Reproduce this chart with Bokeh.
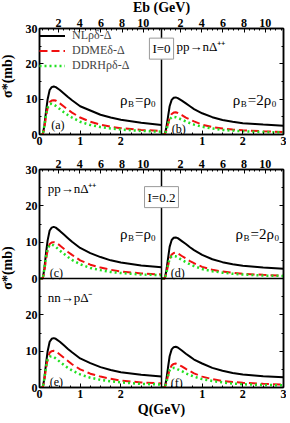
from bokeh.plotting import figure
from bokeh.models import Range1d, LinearAxis, FixedTicker, Span, Label, Legend, LegendItem
from bokeh.layouts import column
from bokeh.embed import file_html
from bokeh.resources import INLINE

# ---------------- data ----------------
Q = [0.0, 0.08, 0.12, 0.16, 0.2, 0.25, 0.3, 0.35, 0.4, 0.5, 0.6, 0.7, 0.8, 1.0, 1.25, 1.5, 1.75, 2.0, 2.5, 3.0]

a_nl = [0, 0, 2.5, 6.5, 10.0, 12.6, 13.4, 13.6, 13.4, 12.6, 11.6, 10.6, 9.7, 8.0, 6.8, 5.6, 4.8, 4.2, 3.3, 2.7]
a_me = [0, 0, 2.0, 5.0, 7.5, 9.2, 9.6, 9.7, 9.6, 8.8, 7.9, 7.0, 6.2, 4.8, 3.6, 2.8, 2.2, 1.8, 1.3, 1.0]
a_rh = [0, 0, 2.5, 5.5, 7.6, 8.6, 8.7, 8.5, 8.1, 7.2, 6.3, 5.5, 4.8, 3.6, 2.7, 2.1, 1.7, 1.4, 1.0, 0.8]

b_nl = [0, 0, 2.0, 5.0, 8.0, 9.8, 10.4, 10.5, 10.3, 9.6, 8.8, 8.0, 7.2, 6.0, 4.9, 4.1, 3.6, 3.2, 2.8, 2.5]
b_me = [0, 0, 1.2, 3.0, 4.6, 5.8, 6.2, 6.3, 6.1, 5.5, 4.8, 4.2, 3.7, 2.8, 2.1, 1.7, 1.4, 1.2, 0.9, 0.7]
b_rh = [0, 0, 1.2, 3.0, 4.3, 4.9, 5.0, 4.9, 4.7, 4.2, 3.7, 3.2, 2.8, 2.2, 1.7, 1.3, 1.1, 0.9, 0.7, 0.6]

c_nl = [0, 0, 2.7, 7.0, 10.5, 13.2, 14.0, 14.2, 14.0, 13.1, 12.1, 11.1, 10.1, 8.4, 7.0, 5.9, 5.0, 4.4, 3.6, 3.1]
c_me = [0, 0, 2.1, 5.2, 7.8, 9.5, 9.9, 10.0, 9.9, 9.1, 8.2, 7.3, 6.5, 5.0, 3.8, 3.0, 2.4, 1.9, 1.4, 1.1]
c_rh = [0, 0, 2.7, 6.0, 8.2, 9.2, 9.3, 9.1, 8.7, 7.7, 6.8, 5.9, 5.1, 3.9, 2.9, 2.3, 1.8, 1.5, 1.1, 0.9]

d_nl = [0, 0, 2.2, 5.5, 8.7, 10.6, 11.2, 11.3, 11.1, 10.3, 9.5, 8.6, 7.8, 6.5, 5.3, 4.5, 3.9, 3.5, 3.0, 2.7]
d_me = [0, 0, 1.4, 3.5, 5.3, 6.6, 7.0, 7.1, 6.9, 6.2, 5.5, 4.8, 4.2, 3.2, 2.4, 1.9, 1.6, 1.3, 1.0, 0.8]
d_rh = [0, 0, 1.5, 3.7, 5.4, 6.1, 6.2, 6.1, 5.8, 5.1, 4.5, 3.9, 3.4, 2.6, 2.0, 1.6, 1.3, 1.1, 0.8, 0.7]

e_nl = [0, 0, 2.5, 6.5, 10.0, 12.6, 13.4, 13.6, 13.4, 12.6, 11.6, 10.6, 9.7, 8.0, 6.7, 5.6, 4.8, 4.2, 3.5, 3.0]
e_me = [0, 0, 2.1, 5.2, 7.8, 9.6, 10.0, 10.1, 10.0, 9.1, 8.2, 7.3, 6.4, 5.0, 3.8, 3.0, 2.4, 1.9, 1.4, 1.1]
e_rh = [0, 0, 2.5, 5.6, 7.7, 8.5, 8.6, 8.4, 8.0, 7.1, 6.2, 5.4, 4.7, 3.6, 2.7, 2.1, 1.7, 1.4, 1.0, 0.8]

f_nl = [0, 0, 2.2, 5.5, 8.6, 10.5, 11.1, 11.2, 11.0, 10.2, 9.3, 8.5, 7.7, 6.6, 5.4, 4.6, 4.0, 3.6, 3.1, 2.8]
f_me = [0, 0, 1.3, 3.2, 4.9, 6.1, 6.5, 6.6, 6.4, 5.8, 5.1, 4.5, 3.9, 3.0, 2.3, 1.8, 1.5, 1.3, 1.0, 0.8]
f_rh = [0, 0, 1.3, 3.2, 4.7, 5.3, 5.4, 5.3, 5.0, 4.5, 3.9, 3.4, 3.0, 2.3, 1.8, 1.4, 1.1, 0.9, 0.7, 0.6]

series_names = ["NLρδ-Δ", "DDMEδ-Δ", "DDRHρδ-Δ"]
q_ticks = [0, 1, 2, 3]
sigma_ticks = [0, 10, 20, 30]
eb_ticks = [2, 4, 6, 8, 10]

# ---------------- styles ----------------
FONT = "Liberation Serif"
COLORS = ["black", "#f01010", "#22e022"]
DASHES = ["solid", "8 4", "2 3"]
WIDTHS = [2, 2, 2.5]

# Eb -> Q mapping used for the upper tick axis
def eb_to_q(eb):
    return round(0.26 * eb - 0.05, 4)


def style_axis(ax, labels=True):
    ax.axis_line_color = "black"
    ax.axis_line_width = 1.5
    ax.major_tick_in = 4
    ax.major_tick_out = 0
    ax.minor_tick_in = 2
    ax.minor_tick_out = 0
    ax.major_tick_line_color = "black"
    ax.minor_tick_line_color = "black"
    ax.major_label_text_font = FONT
    ax.major_label_text_font_style = "bold"
    if labels:
        ax.major_label_text_font_size = "12px"
        ax.major_label_text_color = "black"
        ax.major_label_standoff = 2
    else:
        ax.major_label_text_font_size = "1px"
        ax.major_label_text_color = None
        ax.major_label_standoff = 0
    ax.axis_label_text_font = FONT
    ax.axis_label_text_font_style = "bold"
    ax.axis_label_text_font_size = "14px"
    ax.axis_label_text_color = "black"


def q_axis(labels=True):
    ticks = [t for t in q_ticks] + [t + 3 for t in q_ticks[1:]]
    minor = [i * 0.25 for i in range(25)]
    ax = LinearAxis(ticker=FixedTicker(ticks=ticks, minor_ticks=minor))
    ov = {}
    for t in q_ticks:
        ov[t] = str(t) if t < 3 else ""
        ov[t + 3] = str(t)
    ax.major_label_overrides = ov
    style_axis(ax, labels)
    return ax


def eb_axis(label=None):
    ticks, minor, ov = [], [], {}
    for off in (0, 3):
        for eb in eb_ticks:
            t = round(eb_to_q(eb) + off, 4)
            ticks.append(t)
            ov[t] = str(eb)
        for k in range(1, 24):
            m = round(eb_to_q(k * 0.5) + off, 4)
            if off <= m <= off + 3:
                minor.append(m)
    ax = LinearAxis(ticker=FixedTicker(ticks=ticks, minor_ticks=minor))
    ax.major_label_overrides = ov
    style_axis(ax, True)
    if label:
        ax.axis_label = label
        ax.axis_label_standoff = 1
    return ax


def make_fig(height, ymax, top, bottom):
    p = figure(width=290, height=height, x_range=Range1d(0, 6), y_range=Range1d(0, ymax),
               x_axis_type=None, y_axis_type=None, output_backend="svg", toolbar_location=None,
               min_border_left=38, min_border_right=3, min_border_top=top, min_border_bottom=bottom)
    p.extra_x_ranges = {"r": Range1d(-3, 3)}
    p.outline_line_color = "black"
    p.outline_line_width = 1.5
    p.background_fill_color = "white"
    p.border_fill_color = "white"
    p.add_layout(Span(location=3, dimension="height", line_color="black", line_width=1.5))
    return p


def text(p, x, y, s, size="13px", align="left", xr="default", yr="default", dy=0, **kw):
    lab = Label(x=x, y=y, text=s, x_range_name=xr, y_range_name=yr, y_offset=dy,
                text_font=FONT, text_font_size=size, text_align=align, text_baseline="middle",
                text_color="black", **kw)
    p.add_layout(lab)
    return lab


def rho_label(p, x, y, mid, xr="default", yr="default"):
    text(p, x, y, "ρ", "15px", xr=xr, yr=yr)
    lab = text(p, x, y, "B", "9px", xr=xr, yr=yr, dy=-4)
    lab.x_offset = 8
    lab = text(p, x, y, "=" + mid, "15px", xr=xr, yr=yr)
    lab.x_offset = 15
    w = 16 if mid == "ρ" else 24
    lab = text(p, x, y, "0", "9px", xr=xr, yr=yr, dy=-4)
    lab.x_offset = 15 + w


def draw(p, data, xr="default", yr="default"):
    rs = []
    for vals, c, d, w in zip(data, COLORS, DASHES, WIDTHS):
        rs.append(p.line(Q, vals, line_color=c, line_dash=d, line_width=w,
                         x_range_name=xr, y_range_name=yr))
    return rs

# ---------------- top row: (a) (b) ----------------
p1 = make_fig(155, 30, 30, 17)
yax = LinearAxis(ticker=FixedTicker(ticks=sigma_ticks, minor_ticks=[5, 15, 25]))
style_axis(yax)
yax.axis_label = "\u00a0\u00a0\u00a0σ*(mb)"
yax.axis_label_standoff = 8
p1.add_layout(yax, "left")
yr_ax = LinearAxis(ticker=FixedTicker(ticks=sigma_ticks, minor_ticks=[5, 15, 25]))
style_axis(yr_ax, False)
p1.add_layout(yr_ax, "right")
p1.add_layout(q_axis(), "below")
p1.add_layout(eb_axis("Eb (GeV)"), "above")

ra = draw(p1, [a_nl, a_me, a_rh])
draw(p1, [b_nl, b_me, b_rh], xr="r")

legend = Legend(items=[LegendItem(label=n, renderers=[r]) for n, r in zip(series_names, ra)],
                location="top_left", border_line_color=None, background_fill_alpha=0,
                label_text_font=FONT, label_text_font_size="12px", glyph_width=26,
                glyph_height=15, label_height=15, label_standoff=7, spacing=0,
                padding=2, margin=0)
p1.add_layout(legend)

text(p1, 3.0, 24.3, "I=0", "13px", align="center", border_line_color="#999999",
     background_fill_color="white", padding=3)
text(p1, 0.37, 24.8, "pp→nΔ⁺⁺", "13px", xr="r")
text(p1, 0.29, 2.8, "(a)", "12px")
text(p1, 0.25, 1.6, "(b)", "12px", xr="r")
rho_label(p1, 1.98, 9.7, "ρ")
rho_label(p1, 1.75, 9.7, "2ρ", xr="r")

# ---------------- middle + bottom rows: (c) (d) / (e) (f) ----------------
p2 = make_fig(268, 60, 18, 30)
p2.extra_y_ranges = {"m": Range1d(-30, 30)}
p2.add_layout(Span(location=30, dimension="width", line_color="black", line_width=1.5))
yax2 = LinearAxis(ticker=FixedTicker(ticks=[0, 10, 20, 30, 40, 50, 60],
                                     minor_ticks=[5, 15, 25, 35, 45, 55]))
yax2.major_label_overrides = {0: "0", 10: "10", 20: "20", 30: "0", 40: "10", 50: "20", 60: "30"}
style_axis(yax2)
yax2.axis_label = "\u00a0\u00a0\u00a0\u00a0\u00a0\u00a0σ*(mb)"
yax2.axis_label_standoff = 8
p2.add_layout(yax2, "left")
yr2 = LinearAxis(ticker=FixedTicker(ticks=[0, 10, 20, 30, 40, 50, 60],
                                    minor_ticks=[5, 15, 25, 35, 45, 55]))
style_axis(yr2, False)
p2.add_layout(yr2, "right")
qax = q_axis()
qax.axis_label = "Q(GeV)"
qax.axis_label_standoff = 1
p2.add_layout(qax, "below")
p2.add_layout(eb_axis(), "above")

draw(p2, [c_nl, c_me, c_rh], yr="m")
draw(p2, [d_nl, d_me, d_rh], xr="r", yr="m")
draw(p2, [e_nl, e_me, e_rh])
draw(p2, [f_nl, f_me, f_rh], xr="r")

text(p2, 0.2, 54.8, "pp→nΔ⁺⁺", "13px")
text(p2, 3.0, 52.4, "I=0.2", "13px", align="center", border_line_color="#999999",
     background_fill_color="white", padding=3)
rho_label(p2, 1.98, 42.2, "ρ")
rho_label(p2, 1.82, 42.2, "2ρ", xr="r")
text(p2, 0.25, 31.4, "(c)", "12px")
text(p2, 0.23, 31.4, "(d)", "12px", xr="r")
text(p2, 0.2, 24.8, "nn→pΔ⁻", "13px")
text(p2, 0.25, 1.6, "(e)", "12px")
text(p2, 0.23, 1.2, "(f)", "12px", xr="r")

layout = column(p1, p2, spacing=0, margin=(-4, 0, 0, -4))

open("out.html", "w").write(file_html(layout, INLINE))
